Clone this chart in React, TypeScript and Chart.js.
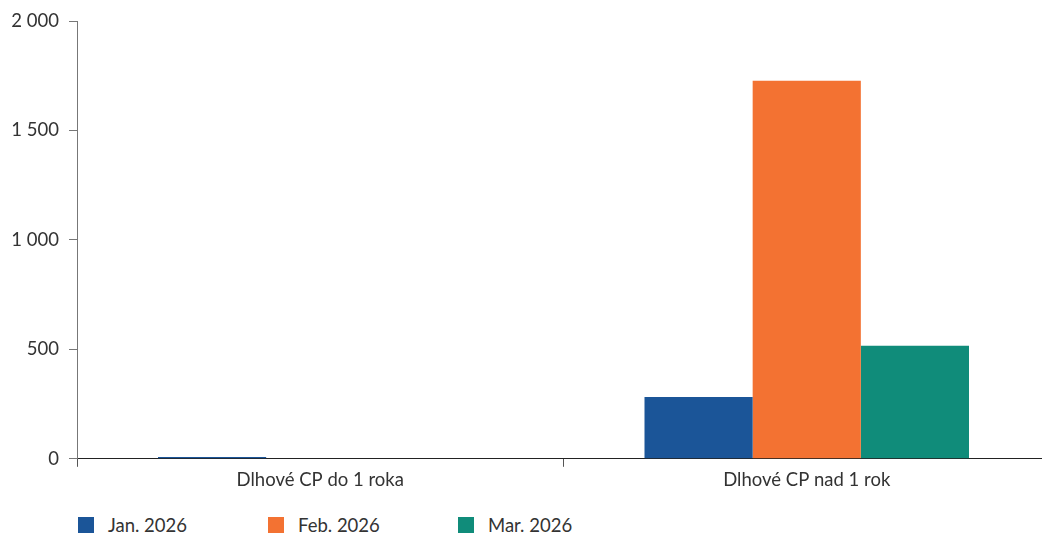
import React, { useEffect, useRef } from "react";
import { Chart, registerables } from "chart.js";

Chart.register(...registerables);

const categories = ["Dlhové CP do 1 roka", "Dlhové CP nad 1 rok"];
const seriesNames = ["Jan. 2026", "Feb. 2026", "Mar. 2026"];
const janValues = [8, 282];
const febValues = [0, 1727];
const marValues = [0, 516];
const seriesColors = ["#1B5598", "#F37232", "#108C7A"];
const yTicks = [0, 500, 1000, 1500, 2000];

const FONT = "Lato, 'Open Sans', sans-serif";
const TEXT = "#333333";

function fmt(v: number): string {
  const s = Math.round(v).toString();
  return s.replace(/\B(?=(\d{3})+(?!\d))/g, " ");
}

export default function App() {
  const ref = useRef<HTMLCanvasElement | null>(null);
  useEffect(() => {
    if (!ref.current) return;
    const values = [janValues, febValues, marValues];
    const chart = new Chart(ref.current, {
      type: "bar",
      data: {
        labels: categories,
        datasets: seriesNames.map((n, i) => ({
          label: n,
          data: values[i],
          backgroundColor: seriesColors[i],
          borderWidth: 0,
          categoryPercentage: 0.667,
          barPercentage: 1,
        })),
      },
      options: {
        animation: false,
        responsive: false,
        maintainAspectRatio: false,
        layout: { padding: { top: 12, right: 0, bottom: 0, left: 0 } },
        plugins: { legend: { display: false }, tooltip: { enabled: false } },
        scales: {
          x: {
            border: { display: true, color: "#222222", width: 1 },
            grid: { drawOnChartArea: false, drawTicks: true, tickLength: 8, color: "#555555", offset: true },
            ticks: { color: TEXT, font: { family: FONT, size: 18.5 }, padding: 2 },
          },
          y: {
            min: 0,
            max: 2000,
            afterBuildTicks: (s: any) => {
              s.ticks = yTicks.map((v) => ({ value: v }));
            },
            afterFit: (s: any) => {
              s.width = 77;
            },
            border: { display: true, color: "#777777", width: 1 },
            grid: { drawOnChartArea: false, drawTicks: true, tickLength: 8, color: "#777777" },
            ticks: {
              color: TEXT,
              font: { family: FONT, size: 18.5 },
              padding: 10,
              callback: (v: any) => fmt(Number(v)),
            },
          },
        },
      },
    });
    return () => chart.destroy();
  }, []);

  return (
    <div style={{ position: "fixed", left: 0, top: 0, width: 1042, height: 534, background: "#fff", overflow: "hidden" }}>
      <canvas ref={ref} width={1050} height={493} style={{ position: "absolute", left: 0, top: 0 }} />
      <div style={{ position: "absolute", left: 78, top: 515, height: 20, display: "flex", fontFamily: FONT, fontSize: 18.5, color: TEXT }}>
        {seriesNames.map((n, i) => (
          <div key={n} style={{ width: 190, display: "flex", alignItems: "center" }}>
            <span style={{ display: "inline-block", width: 16, height: 16, background: seriesColors[i], marginRight: 14 }} />
            <span>{n}</span>
          </div>
        ))}
      </div>
    </div>
  );
}
